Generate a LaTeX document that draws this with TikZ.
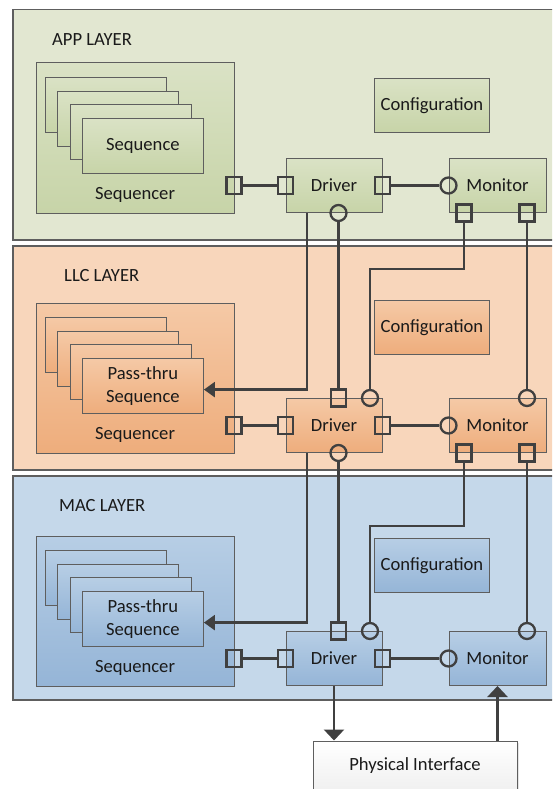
\documentclass[tikz,border=0pt]{standalone}
\usepackage{fontspec}
\setmainfont{Carlito}
\usetikzlibrary{arrows.meta,shadows}
\definecolor{ink}{HTML}{1A1A1A}
\definecolor{edge}{HTML}{5E5E5E}
\definecolor{wirecol}{HTML}{404040}
\definecolor{appbg}{HTML}{E2E7D1}
\definecolor{apptop}{HTML}{DAE2C5}
\definecolor{appbot}{HTML}{C7D4A8}
\definecolor{llcbg}{HTML}{F8D6BB}
\definecolor{llctop}{HTML}{F5C9A6}
\definecolor{llcbot}{HTML}{EEAD7C}
\definecolor{macbg}{HTML}{C5D8EA}
\definecolor{mactop}{HTML}{B7CEE5}
\definecolor{macbot}{HTML}{95B5D7}
\tikzset{
  uvm layer/.style={draw=edge,line width=1.1pt,fill=#1bg},
  uvm box/.style={draw=edge,line width=1pt,top color=#1top,bottom color=#1bot},
  uvm card/.style={minimum width=121pt,minimum height=55pt,anchor=north west},
  uvm port/.style={draw=wirecol,line width=2.3pt,inner sep=0pt,rectangle,minimum width=15pt,minimum height=17pt},
  uvm ring/.style={draw=wirecol,line width=2.3pt,inner sep=0pt,circle,minimum size=16pt},
  uvm wire/.style={draw=wirecol,line width=2.5pt},
  uvm arrow/.style={uvm wire,-{Triangle[length=11pt,width=15pt]}},
  uvm arrow wide/.style={uvm wire,-{Triangle[length=11pt,width=20pt]}},
  phy box/.style={draw=edge,line width=1pt,top color=white,bottom color=gray!12,
    minimum width=204pt,minimum height=50pt,
    drop shadow={shadow xshift=2pt,shadow yshift=-2pt,opacity=.2}}
}

\begin{document}
\begin{tikzpicture}[x=1pt,y=-1pt,font=\fontsize{18.6}{23}\selectfont,text=ink]
  \clip (0,0) rectangle (552,789);
  \fill[white] (0,0) rectangle (552,789);
  % one band per layer: sequencer, driver, monitor, configuration
  \foreach \lay/\dy/\ltop/\lbot/\lname/\lx/\ly/\cy/\seqtxt in {
      app/0/9.5/240/APP LAYER/52/40/105.5/Sequence,
      llc/240/246/470/LLC LAYER/64/276/327.5/{Pass-thru\\Sequence},
      mac/473/476/700/MAC LAYER/59/506/565.5/{Pass-thru\\Sequence}}{
    \draw[uvm layer=\lay] (13,\ltop) rectangle (562,\lbot);
    \node[anchor=west,inner sep=0pt] (\lay-name) at (\lx,\ly) {\lname};
    \node[uvm box=\lay,minimum width=115pt,minimum height=54pt] (\lay-cfg) at (432,\cy) {Configuration};
    \begin{scope}[shift={(0,\dy)}]
      \node[uvm box=\lay,minimum width=198pt,minimum height=150pt] (\lay-seqr) at (135,138) {};
      \foreach \i in {0,1,2}
        \node[uvm box=\lay,uvm card] (\lay-s\i) at ({45+12.3*\i},{77+13.7*\i}) {};
      \node[uvm box=\lay,uvm card,align=center] (\lay-s3) at (81.9,118.1) {\seqtxt};
      \node[inner sep=0pt] (\lay-seqr-name) at (135,195) {Sequencer};
      \node[uvm box=\lay,minimum width=96pt,minimum height=54pt] (\lay-drv) at (334,185.5) {Driver};
      \node[uvm box=\lay,minimum width=97pt,minimum height=54pt] (\lay-mon) at (497.5,185.5) {Monitor};
      \node[uvm port] (\lay-sp) at (234,185.5) {};
    \end{scope}
    \node[uvm port] (\lay-dl) at (\lay-drv.west) {};
    \node[uvm port] (\lay-dr) at (\lay-drv.east) {};
    \node[uvm ring] (\lay-ml) at (\lay-mon.west) {};
    \draw[uvm wire] (\lay-sp) -- (\lay-dl);
    \draw[uvm wire] (\lay-dr) -- (\lay-ml);
  }
  % ports facing the layer below / above
  \foreach \lay in {app,llc}{
    \node[uvm ring] (\lay-db) at ([xshift=4.5pt]\lay-drv.south) {};
    \node[uvm port] (\lay-mb1) at ([xshift=-33.5pt]\lay-mon.south) {};
    \node[uvm port] (\lay-mb2) at ([xshift=29.5pt]\lay-mon.south) {};
  }
  \foreach \lay in {llc,mac}{
    \node[uvm port] (\lay-dt) at ([xshift=4.5pt]\lay-drv.north) {};
    \node[uvm ring] (\lay-dtc) at ([xshift=36pt]\lay-drv.north) {};
    \node[uvm ring] (\lay-mt) at ([xshift=29.5pt]\lay-mon.north) {};
  }
  % links between neighbouring layers
  \foreach \up/\dn/\by in {app/llc/269,llc/mac/526}{
    \coordinate (\up-bend) at (370,\by);
    \draw[uvm arrow] ([xshift=-27pt]\up-drv.south) |- ([yshift=-3.5pt]\dn-s3.east);
    \draw[uvm wire] (\up-db) -- (\dn-dt);
    \draw[uvm wire] (\up-mb1) |- (\up-bend) -- (\dn-dtc);
    \draw[uvm wire] (\up-mb2) -- (\dn-mt);
  }
  % physical side
  \node[phy box] (phy) at (415,766) {Physical Interface};
  \draw[uvm arrow wide] (mac-drv.south) -- (mac-drv.south |- phy.north);
  \draw[uvm arrow wide] (phy.north -| mac-mon.south) -- (mac-mon.south);
\end{tikzpicture}
\end{document}
